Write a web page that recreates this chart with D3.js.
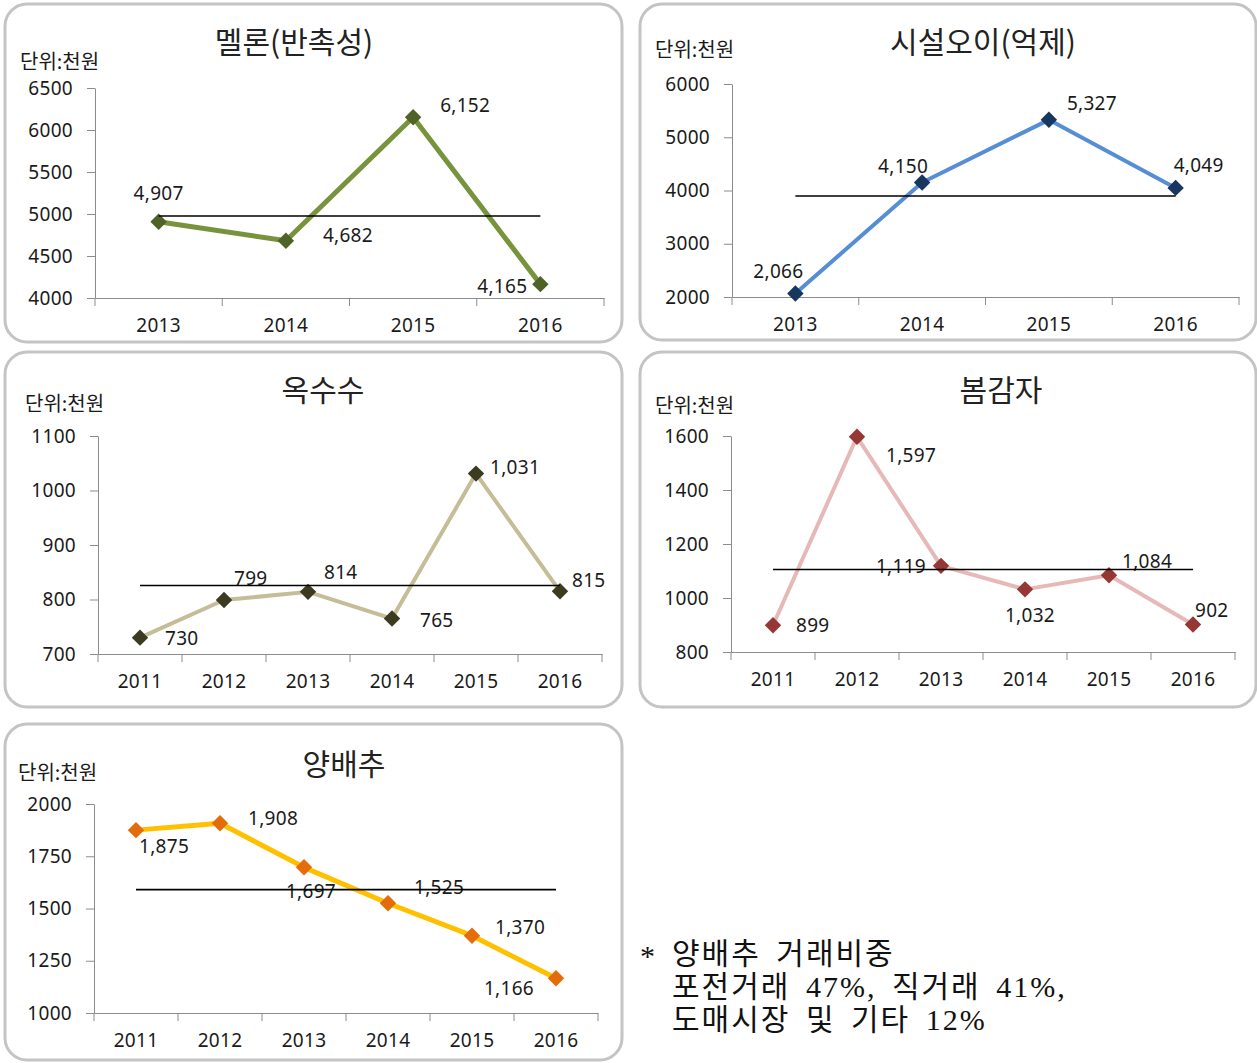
<!DOCTYPE html>
<html>
<head>
<meta charset="utf-8">
<script src="https://cdn.jsdelivr.net/npm/d3@7"></script>
<style>
  body { margin: 0; background: #fff; }
  svg { display: block; }
</style>
</head>
<body>
<script>
// data
var years4 = ["2013", "2014", "2015", "2016"];
var years6 = ["2011", "2012", "2013", "2014", "2015", "2016"];

var melonValues = [4907, 4682, 6152, 4165];
var cucumberValues = [2066, 4150, 5327, 4049];
var cornValues = [730, 799, 814, 765, 1031, 815];
var potatoValues = [899, 1597, 1119, 1032, 1084, 902];
var cabbageValues = [1875, 1908, 1697, 1525, 1370, 1166];

var melonTicks = [4000, 4500, 5000, 5500, 6000, 6500];
var cucumberTicks = [2000, 3000, 4000, 5000, 6000];
var cornTicks = [700, 800, 900, 1000, 1100];
var potatoTicks = [800, 1000, 1200, 1400, 1600];
var cabbageTicks = [1000, 1250, 1500, 1750, 2000];

var unitLabel = "단위:천원";
var noteLines = ["양배추 거래비중", "포전거래 47%, 직거래 41%,", "도매시장 및 기타 12%"];

var KR = "'Noto Sans CJK KR', sans-serif";
var NUM = "'Noto Sans', 'Noto Sans CJK KR', sans-serif";

var svg = d3.select("body").
  append("svg").
  attr("width", 1257).
  attr("height", 1063);

// layout: box [x,y,w,h], plot [x0,x1,yBottom,yTop]
var panels = [
  {title: "멜론(반촉성)", cats: years4, values: melonValues, ticks: melonTicks,
   box: [5, 4, 617, 338], plot: [95, 604, 298, 88], titleAt: [294, 40], unitAt: [20, 60],
   line: "#77933c", lineW: 5, marker: "#4f6228",
   labels: [[0, -29, "middle"], [37, -6, "start"], [27, -12, "start"], [-13, 2, "end"]]},
  {title: "시설오이(억제)", cats: years4, values: cucumberValues, ticks: cucumberTicks,
   box: [640, 4, 616, 336], plot: [732, 1239, 297, 84], titleAt: [983, 40], unitAt: [655, 48],
   line: "#558ed5", lineW: 4, marker: "#17375e",
   labels: [[-17, -22, "middle"], [-19, -17, "middle"], [18, -17, "start"], [-2, -23, "start"]]},
  {title: "옥수수", cats: years6, values: cornValues, ticks: cornTicks,
   box: [5, 352, 617, 355], plot: [98, 602, 654, 436], titleAt: [323, 388], unitAt: [25, 402],
   line: "#c4bd97", lineW: 4, marker: "#3d3a22",
   labels: [[25, 0, "start"], [10, -22, "start"], [16, -20, "start"], [28, 1, "start"], [14, -7, "start"], [12, -11, "start"]]},
  {title: "봄감자", cats: years6, values: potatoValues, ticks: potatoTicks,
   box: [640, 352, 616, 355], plot: [731, 1235, 652, 436], titleAt: [1001, 388], unitAt: [655, 404],
   line: "#e6b9b8", lineW: 4, marker: "#953735",
   labels: [[23, 0, "start"], [29, 18, "start"], [-15, 0, "end"], [5, 26, "middle"], [13, -14, "start"], [2, -14, "start"]]},
  {title: "양배추", cats: years6, values: cabbageValues, ticks: cabbageTicks,
   box: [5, 724, 617, 336], plot: [94, 598, 1013, 804], titleAt: [344, 762], unitAt: [18, 771],
   line: "#ffc000", lineW: 5, marker: "#e46c0a",
   labels: [[3, 16, "start"], [28, -5, "start"], [7, 24, "middle"], [26, -16, "start"], [23, -9, "start"], [-22, 10, "end"]]}
];

function drawPanel(p) {
  var g = svg.append("g");

  g.append("rect")
    .attr("x", p.box[0]).attr("y", p.box[1])
    .attr("width", p.box[2]).attr("height", p.box[3])
    .attr("rx", 22).attr("ry", 22)
    .attr("fill", "#fff")
    .attr("stroke", "#c4c4c4")
    .attr("stroke-width", 3);

  var x = d3.scaleBand().domain(p.cats).range([p.plot[0], p.plot[1]]);
  var y = d3.scaleLinear()
    .domain([p.ticks[0], p.ticks[p.ticks.length - 1]])
    .range([p.plot[2], p.plot[3]]);
  var cx = function(d, i) { return x(p.cats[i]) + x.bandwidth() / 2; };

  // y axis
  var ya = g.append("g")
    .attr("transform", "translate(" + p.plot[0] + ",0)")
    .call(d3.axisLeft(y).tickValues(p.ticks).tickSize(8).tickSizeOuter(0).tickPadding(14).tickFormat(d3.format("d")));

  // x axis (labels centred in bands, ticks on band edges)
  var xa = g.append("g")
    .attr("transform", "translate(0," + p.plot[2] + ")")
    .call(d3.axisBottom(x).tickSize(0).tickSizeOuter(0).tickPadding(21));

  g.selectAll(".edge").data(d3.range(p.cats.length + 1)).enter().append("line")
    .attr("x1", function(i) { return p.plot[0] + i * x.step(); })
    .attr("x2", function(i) { return p.plot[0] + i * x.step(); })
    .attr("y1", p.plot[2])
    .attr("y2", p.plot[2] + 8)
    .attr("stroke", "#8c8c8c");

  [ya, xa].forEach(function(a) {
    a.selectAll(".domain, .tick line").attr("stroke", "#8c8c8c");
    a.selectAll("text")
      .attr("fill", "#1a1a1a")
      .style("font-family", NUM)
      .style("font-size", "19px")
      .style("letter-spacing", "0.3px");
  });

  // title and unit
  g.append("text")
    .attr("x", p.titleAt[0]).attr("y", p.titleAt[1])
    .attr("text-anchor", "middle")
    .attr("dominant-baseline", "central")
    .attr("fill", "#222")
    .style("font-family", KR)
    .style("font-size", "30px")
    .text(p.title);

  g.append("text")
    .attr("x", p.unitAt[0]).attr("y", p.unitAt[1])
    .attr("dominant-baseline", "central")
    .attr("fill", "#1a1a1a")
    .style("font-family", KR)
    .style("font-size", "20px")
    .text(unitLabel);

  // series line
  var line = d3.line()
    .x(function(d, i) { return cx(d, i); })
    .y(function(d) { return y(d); });

  g.append("path")
    .datum(p.values)
    .attr("d", line)
    .attr("fill", "none")
    .attr("stroke", p.line)
    .attr("stroke-width", p.lineW)
    .attr("stroke-linejoin", "round");

  g.selectAll(".mark").data(p.values).enter().append("path")
    .attr("d", d3.symbol(d3.symbolSquare).size(135))
    .attr("transform", function(d, i) {
      return "translate(" + cx(d, i) + "," + y(d) + ") rotate(45)";
    })
    .attr("fill", p.marker);

  // data labels
  g.selectAll(".lbl").data(p.values).enter().append("text")
    .attr("x", function(d, i) { return cx(d, i) + p.labels[i][0]; })
    .attr("y", function(d, i) { return y(d) + p.labels[i][1]; })
    .attr("text-anchor", function(d, i) { return p.labels[i][2]; })
    .attr("dominant-baseline", "central")
    .attr("fill", "#1a1a1a")
    .style("font-family", NUM)
    .style("font-size", "19px")
    .style("letter-spacing", "0.3px")
    .text(d3.format(","));

  // average line
  var avg = d3.mean(p.values);
  g.append("line")
    .attr("x1", cx(null, 0))
    .attr("x2", cx(null, p.values.length - 1))
    .attr("y1", y(avg))
    .attr("y2", y(avg))
    .attr("stroke", "#000")
    .attr("stroke-width", 1.6);
}

panels.forEach(drawPanel);

// note
var note = svg.append("g")
  .style("font-family", "'Liberation Serif', 'Noto Sans CJK KR', serif")
  .style("font-size", "30px")
  .attr("fill", "#111");

note.append("text").attr("x", 640).attr("y", 966).text("*");
note.selectAll(".note").data(noteLines).enter().append("text")
  .attr("x", 672)
  .attr("y", function(d, i) { return 964 + i * 33; })
  .attr("xml:space", "preserve")
  .style("letter-spacing", "2px")
  .style("word-spacing", "6px")
  .text(function(d) { return d; });
</script>
</body>
</html>
